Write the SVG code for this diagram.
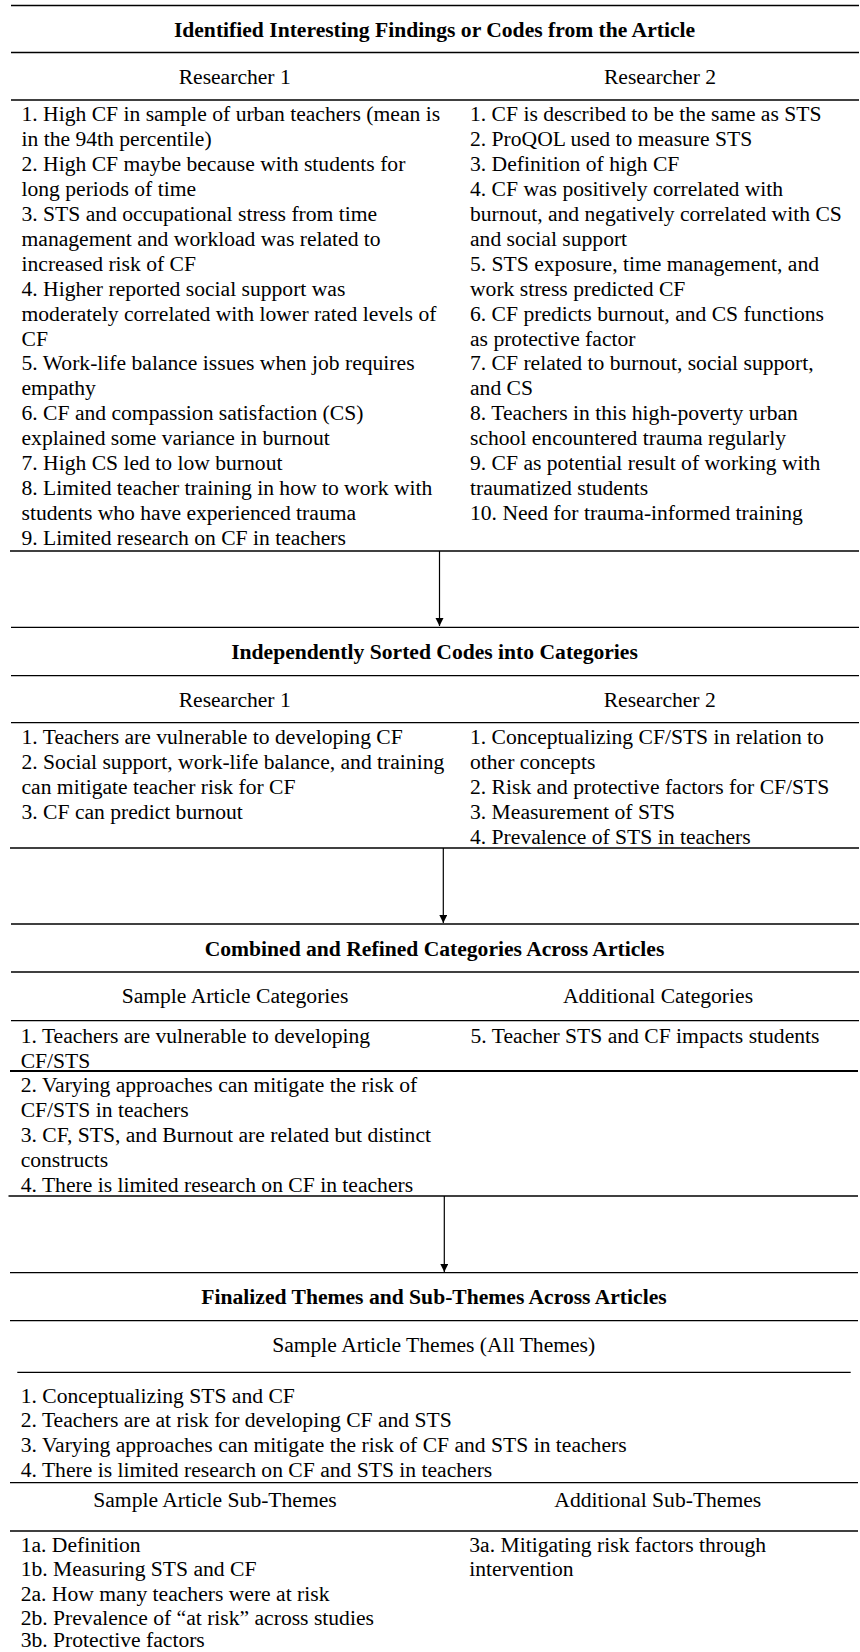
<svg xmlns="http://www.w3.org/2000/svg" width="860" height="1652" viewBox="0 0 860 1652" font-family="'Liberation Serif','Times New Roman',serif">
<style>
text{font-family:"Liberation Serif","Times New Roman",serif;font-size:21.6px;fill:#000}
.t{font-weight:bold;text-anchor:middle}
.h{text-anchor:middle}
.rule{stroke:#000;stroke-width:1.3;fill:none}
.thick{stroke:#000;stroke-width:2.2;fill:none}
.conn{stroke:#000;stroke-width:1.2;fill:none}
</style>
<defs>
<marker id="ah" markerUnits="userSpaceOnUse" markerWidth="9" markerHeight="9" refX="8" refY="4" orient="auto">
<path d="M0,0 L8,4 L0,8 z" fill="#000"/>
</marker>
</defs>
<rect width="860" height="1652" fill="#fff"/>

<g id="stage1">
<line class="rule" x1="11" y1="5.5" x2="859" y2="5.5"/>
<text class="t" x="434.5" y="37">Identified Interesting Findings or Codes from the Article</text>
<line class="rule" x1="11" y1="52.5" x2="859" y2="52.5"/>
<text class="h" x="234.7" y="83.5">Researcher 1</text>
<text class="h" x="660" y="83.5">Researcher 2</text>
<line class="rule" x1="11" y1="100" x2="859" y2="100"/>
<text x="21.5" y="121">
<tspan x="21.5" y="121">1. High CF in sample of urban teachers (mean is</tspan>
<tspan x="21.5" y="145.9">in the 94th percentile)</tspan>
<tspan x="21.5" y="170.9">2. High CF maybe because with students for</tspan>
<tspan x="21.5" y="195.8">long periods of time</tspan>
<tspan x="21.5" y="220.8">3. STS and occupational stress from time</tspan>
<tspan x="21.5" y="245.7">management and workload was related to</tspan>
<tspan x="21.5" y="270.6">increased risk of CF</tspan>
<tspan x="21.5" y="295.6">4. Higher reported social support was</tspan>
<tspan x="21.5" y="320.5">moderately correlated with lower rated levels of</tspan>
<tspan x="21.5" y="345.5">CF</tspan>
<tspan x="21.5" y="370.4">5. Work-life balance issues when job requires</tspan>
<tspan x="21.5" y="395.3">empathy</tspan>
<tspan x="21.5" y="420.3">6. CF and compassion satisfaction (CS)</tspan>
<tspan x="21.5" y="445.2">explained some variance in burnout</tspan>
<tspan x="21.5" y="470.2">7. High CS led to low burnout</tspan>
<tspan x="21.5" y="495.1">8. Limited teacher training in how to work with</tspan>
<tspan x="21.5" y="520">students who have experienced trauma</tspan>
<tspan x="21.5" y="545">9. Limited research on CF in teachers</tspan>
</text>
<text x="470" y="121">
<tspan x="470" y="121">1. CF is described to be the same as STS</tspan>
<tspan x="470" y="145.9">2. ProQOL used to measure STS</tspan>
<tspan x="470" y="170.9">3. Definition of high CF</tspan>
<tspan x="470" y="195.8">4. CF was positively correlated with</tspan>
<tspan x="470" y="220.8">burnout, and negatively correlated with CS</tspan>
<tspan x="470" y="245.7">and social support</tspan>
<tspan x="470" y="270.6">5. STS exposure, time management, and</tspan>
<tspan x="470" y="295.6">work stress predicted CF</tspan>
<tspan x="470" y="320.5">6. CF predicts burnout, and CS functions</tspan>
<tspan x="470" y="345.5">as protective factor</tspan>
<tspan x="470" y="370.4">7. CF related to burnout, social support,</tspan>
<tspan x="470" y="395.3">and CS</tspan>
<tspan x="470" y="420.3">8. Teachers in this high-poverty urban</tspan>
<tspan x="470" y="445.2">school encountered trauma regularly</tspan>
<tspan x="470" y="470.2">9. CF as potential result of working with</tspan>
<tspan x="470" y="495.1">traumatized students</tspan>
<tspan x="470" y="520">10. Need for trauma-informed training</tspan>
</text>
<line class="rule" x1="10" y1="551" x2="859" y2="551"/>
</g>

<g id="stage2">
<line class="rule" x1="11" y1="627.3" x2="859" y2="627.3"/>
<text class="t" x="434.5" y="659">Independently Sorted Codes into Categories</text>
<line class="rule" x1="11" y1="675.7" x2="859" y2="675.7"/>
<text class="h" x="234.7" y="707">Researcher 1</text>
<text class="h" x="659.7" y="707">Researcher 2</text>
<line class="rule" x1="11" y1="722.7" x2="859" y2="722.7"/>
<text x="21.5" y="744">
<tspan x="21.5" y="744">1. Teachers are vulnerable to developing CF</tspan>
<tspan x="21.5" y="768.9">2. Social support, work-life balance, and training</tspan>
<tspan x="21.5" y="793.8">can mitigate teacher risk for CF</tspan>
<tspan x="21.5" y="818.7">3. CF can predict burnout</tspan>
</text>
<text x="470" y="744">
<tspan x="470" y="744">1. Conceptualizing CF/STS in relation to</tspan>
<tspan x="470" y="768.9">other concepts</tspan>
<tspan x="470" y="793.8">2. Risk and protective factors for CF/STS</tspan>
<tspan x="470" y="818.7">3. Measurement of STS</tspan>
<tspan x="470" y="843.6">4. Prevalence of STS in teachers</tspan>
</text>
<line class="rule" x1="10" y1="848" x2="859" y2="848"/>
</g>

<g id="stage3">
<line class="rule" x1="11" y1="924" x2="859" y2="924"/>
<text class="t" x="434.5" y="956">Combined and Refined Categories Across Articles</text>
<line class="rule" x1="11" y1="972" x2="859" y2="972"/>
<text class="h" x="235" y="1003">Sample Article Categories</text>
<text class="h" x="658" y="1003">Additional Categories</text>
<line class="rule" x1="11" y1="1020.7" x2="859" y2="1020.7"/>
<text x="20.7" y="1043">
<tspan x="20.7" y="1043">1. Teachers are vulnerable to developing</tspan>
<tspan x="20.7" y="1067.9">CF/STS</tspan>
</text>
<text x="470.5" y="1042.5">5. Teacher STS and CF impacts students</text>
<line class="thick" x1="10" y1="1071" x2="858" y2="1071"/>
<text x="20.7" y="1092">
<tspan x="20.7" y="1092">2. Varying approaches can mitigate the risk of</tspan>
<tspan x="20.7" y="1116.9">CF/STS in teachers</tspan>
<tspan x="20.7" y="1141.8">3. CF, STS, and Burnout are related but distinct</tspan>
<tspan x="20.7" y="1166.7">constructs</tspan>
<tspan x="20.7" y="1191.6">4. There is limited research on CF in teachers</tspan>
</text>
<line class="rule" x1="8.5" y1="1196" x2="858" y2="1196"/>
</g>

<g id="stage4">
<line class="rule" x1="10" y1="1272.7" x2="858" y2="1272.7"/>
<text class="t" x="434" y="1303.5">Finalized Themes and Sub-Themes Across Articles</text>
<line class="rule" x1="10" y1="1320.7" x2="858" y2="1320.7"/>
<text class="h" x="433.7" y="1351.7">Sample Article Themes (All Themes)</text>
<line class="rule" x1="17.3" y1="1372.3" x2="850.7" y2="1372.3"/>
<text x="20.7" y="1402.5">
<tspan x="20.7" y="1402.5">1. Conceptualizing STS and CF</tspan>
<tspan x="20.7" y="1427.4">2. Teachers are at risk for developing CF and STS</tspan>
<tspan x="20.7" y="1452.3">3. Varying approaches can mitigate the risk of CF and STS in teachers</tspan>
<tspan x="20.7" y="1477.2">4. There is limited research on CF and STS in teachers</tspan>
</text>
<line class="rule" x1="10" y1="1482.7" x2="858" y2="1482.7"/>
<text class="h" x="215" y="1506.7">Sample Article Sub-Themes</text>
<text class="h" x="657.8" y="1506.7">Additional Sub-Themes</text>
<line class="rule" x1="10" y1="1531" x2="858" y2="1531"/>
<text x="20.7" y="1551.7">
<tspan x="20.7" y="1551.7">1a. Definition</tspan>
<tspan x="20.7" y="1576.4">1b. Measuring STS and CF</tspan>
<tspan x="20.7" y="1601.1">2a. How many teachers were at risk</tspan>
<tspan x="20.7" y="1625.4">2b. Prevalence of “at risk” across studies</tspan>
<tspan x="20.7" y="1647">3b. Protective factors</tspan>
</text>
<text x="469.3" y="1551.7">
<tspan x="469.3" y="1551.7">3a. Mitigating risk factors through</tspan>
<tspan x="469.3" y="1576.4">intervention</tspan>
</text>
</g>

<g id="connectors">
<line class="conn" x1="439.5" y1="551" x2="439.5" y2="626" marker-end="url(#ah)"/>
<line class="conn" x1="443.3" y1="848" x2="443.3" y2="923" marker-end="url(#ah)"/>
<line class="conn" x1="444.3" y1="1196" x2="444.3" y2="1272" marker-end="url(#ah)"/>
</g>
</svg>
